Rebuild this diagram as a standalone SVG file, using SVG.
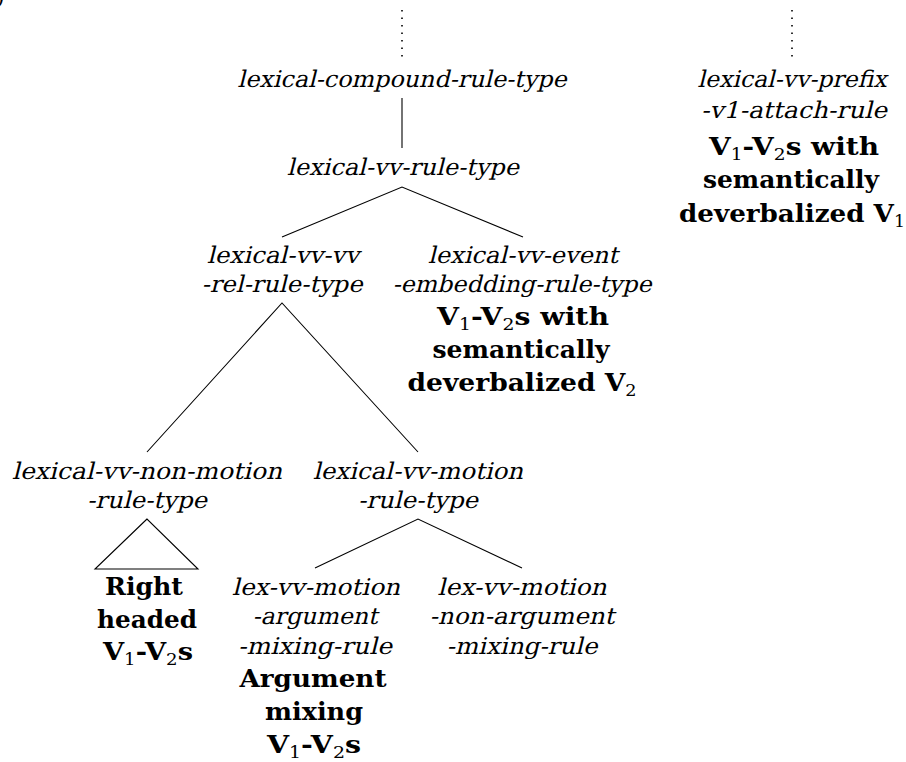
<svg xmlns="http://www.w3.org/2000/svg" width="906" height="762" viewBox="0 0 906 762">
<style>
.it{font-family:"DejaVu Serif","Liberation Serif",serif;font-style:normal;font-size:23px;text-anchor:middle;fill:#000}
.bd{font-family:"DejaVu Serif","Liberation Serif",serif;font-weight:bold;font-size:24px;text-anchor:middle;fill:#000}
.sub{font-weight:normal;font-size:16px}
.ln{stroke:#000;stroke-width:1.1;fill:none}
.dot{stroke:#000;stroke-width:1.6;stroke-dasharray:1.6 5.9;fill:none}
</style>
<rect width="906" height="762" fill="#fff"/>
<text x="-4" y="4" style="font-family:'DejaVu Serif',serif;font-size:22px">)</text>
<g id="connectors">
<line class="dot" x1="402" y1="10" x2="402" y2="60"/>
<line class="dot" x1="792" y1="10" x2="792" y2="60"/>
<line class="ln" x1="402" y1="98" x2="402" y2="148"/>
<polyline class="ln" points="282,237 402,187 523,237"/>
<polyline class="ln" points="147,452 282,303 418,452"/>
<polygon class="ln" points="147,519 95,569 198,569"/>
<polyline class="ln" points="315,568 418,519 522,568"/>
</g>
<g id="n-compound">
<text class="it" transform="translate(402 87) skewX(-14)" textLength="329" lengthAdjust="spacingAndGlyphs">lexical-compound-rule-type</text>
</g>
<g id="n-vv">
<text class="it" transform="translate(403 175) skewX(-14)" textLength="232" lengthAdjust="spacingAndGlyphs">lexical-vv-rule-type</text>
</g>
<g id="n-vvrel">
<text class="it" transform="translate(283 263) skewX(-14)" textLength="152" lengthAdjust="spacingAndGlyphs">lexical-vv-vv</text>
<text class="it" transform="translate(282 292) skewX(-14)" textLength="161" lengthAdjust="spacingAndGlyphs">-rel-rule-type</text>
</g>
<g id="n-event">
<text class="it" transform="translate(523 263) skewX(-14)" textLength="190" lengthAdjust="spacingAndGlyphs">lexical-vv-event</text>
<text class="it" transform="translate(522 292) skewX(-14)" textLength="259" lengthAdjust="spacingAndGlyphs">-embedding-rule-type</text>
<text class="bd" x="523" y="325" textLength="172" lengthAdjust="spacingAndGlyphs">V<tspan class="sub" dy="5">1</tspan><tspan dy="-5">-V</tspan><tspan class="sub" dy="5">2</tspan><tspan dy="-5">s with</tspan></text>
<text class="bd" x="521" y="358" textLength="177" lengthAdjust="spacingAndGlyphs">semantically</text>
<text class="bd" x="522" y="391" textLength="229" lengthAdjust="spacingAndGlyphs">deverbalized V<tspan class="sub" dy="5">2</tspan></text>
</g>
<g id="n-prefix">
<text class="it" transform="translate(792 87) skewX(-14)" textLength="189" lengthAdjust="spacingAndGlyphs">lexical-vv-prefix</text>
<text class="it" transform="translate(794 118) skewX(-14)" textLength="186" lengthAdjust="spacingAndGlyphs">-v1-attach-rule</text>
<text class="bd" x="794" y="155" textLength="170" lengthAdjust="spacingAndGlyphs">V<tspan class="sub" dy="5">1</tspan><tspan dy="-5">-V</tspan><tspan class="sub" dy="5">2</tspan><tspan dy="-5">s with</tspan></text>
<text class="bd" x="791" y="188" textLength="176" lengthAdjust="spacingAndGlyphs">semantically</text>
<text class="bd" x="792" y="222" textLength="226" lengthAdjust="spacingAndGlyphs">deverbalized V<tspan class="sub" dy="5">1</tspan></text>
</g>
<g id="n-nonmotion">
<text class="it" transform="translate(147 479) skewX(-14)" textLength="270" lengthAdjust="spacingAndGlyphs">lexical-vv-non-motion</text>
<text class="it" transform="translate(147 508) skewX(-14)" textLength="120" lengthAdjust="spacingAndGlyphs">-rule-type</text>
</g>
<g id="n-right">
<text class="bd" x="144" y="595" textLength="78" lengthAdjust="spacingAndGlyphs">Right</text>
<text class="bd" x="147" y="628" textLength="100" lengthAdjust="spacingAndGlyphs">headed</text>
<text class="bd" x="148" y="660" textLength="90" lengthAdjust="spacingAndGlyphs">V<tspan class="sub" dy="5">1</tspan><tspan dy="-5">-V</tspan><tspan class="sub" dy="5">2</tspan><tspan dy="-5">s</tspan></text>
</g>
<g id="n-motion">
<text class="it" transform="translate(418 479) skewX(-14)" textLength="210" lengthAdjust="spacingAndGlyphs">lexical-vv-motion</text>
<text class="it" transform="translate(418 508) skewX(-14)" textLength="120" lengthAdjust="spacingAndGlyphs">-rule-type</text>
</g>
<g id="n-argmix">
<text class="it" transform="translate(316 595) skewX(-14)" textLength="168" lengthAdjust="spacingAndGlyphs">lex-vv-motion</text>
<text class="it" transform="translate(315 624) skewX(-14)" textLength="125" lengthAdjust="spacingAndGlyphs">-argument</text>
<text class="it" transform="translate(315 654) skewX(-14)" textLength="154" lengthAdjust="spacingAndGlyphs">-mixing-rule</text>
<text class="bd" x="313" y="687" textLength="147" lengthAdjust="spacingAndGlyphs">Argument</text>
<text class="bd" x="314" y="720" textLength="98" lengthAdjust="spacingAndGlyphs">mixing</text>
<text class="bd" x="314" y="753" textLength="94" lengthAdjust="spacingAndGlyphs">V<tspan class="sub" dy="5">1</tspan><tspan dy="-5">-V</tspan><tspan class="sub" dy="5">2</tspan><tspan dy="-5">s</tspan></text>
</g>
<g id="n-nonarg">
<text class="it" transform="translate(522 595) skewX(-14)" textLength="169" lengthAdjust="spacingAndGlyphs">lex-vv-motion</text>
<text class="it" transform="translate(522 624) skewX(-14)" textLength="185" lengthAdjust="spacingAndGlyphs">-non-argument</text>
<text class="it" transform="translate(522 654) skewX(-14)" textLength="151" lengthAdjust="spacingAndGlyphs">-mixing-rule</text>
</g>
</svg>
